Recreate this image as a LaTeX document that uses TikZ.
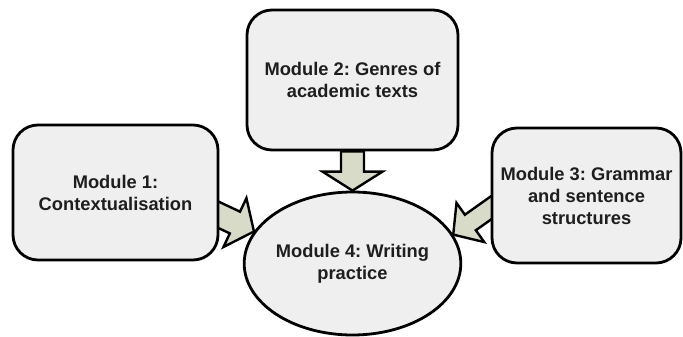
\documentclass[tikz,border=0pt]{standalone}
\usepackage{fontspec}
\setmainfont{Liberation Sans}
\usetikzlibrary{calc,shapes.geometric,backgrounds}
\frenchspacing

\definecolor{boxfill}{RGB}{239,239,239}
\definecolor{arrowfill}{RGB}{216,219,200}
\definecolor{modtext}{RGB}{30,30,30}

% Block arrow from #1 (start, hidden under the box) to #2 (tip):
% #3 half shaft width, #4 half head width, #5 head length
\newcommand\blockarrow[5]{%
  \path (#2) coordinate (tipX) ($(#2)!#5!(#1)$) coordinate (baseX);
  \draw[blockarrow]
    ($(#1)!#3!90:(#2)$) -- ($(baseX)!#3!90:(tipX)$) --
    ($(baseX)!#4!90:(tipX)$) -- (tipX) --
    ($(baseX)!#4!-90:(tipX)$) -- ($(baseX)!#3!-90:(tipX)$) --
    ($(#1)!#3!-90:(#2)$) -- cycle;
}

\begin{document}
\begin{tikzpicture}[x=1pt,y=-1pt,
  module/.style={draw=black, line width=2.8pt, fill=boxfill,
    font=\bfseries\fontsize{18.3}{22}\selectfont, align=center,
    inner sep=0pt, text=modtext},
  modbox/.style={module, rectangle, rounded corners=25pt},
  modoval/.style={module, ellipse},
  blockarrow/.style={draw=black, line width=2.4pt, fill=arrowfill,
    line join=miter}]
\useasboundingbox (0,0) rectangle (683,337);

\node[modbox, minimum width=205pt, minimum height=135pt] (m1) at (115.5,192.5)
  {Module 1:\\Contextualisation};
\node[modbox, minimum width=211pt, minimum height=140pt] (m2) at (352.5,80)
  {Module 2: Genres of\\academic texts};
\node[modbox, minimum width=189pt, minimum height=135pt] (m3) at (586.5,195.5)
  {Module 3: Grammar\\and sentence\\structures};
\node[modoval, minimum width=215pt, minimum height=143pt] (m4) at (352.5,263.5)
  {Module 4: Writing\\practice};

\begin{scope}[on background layer]
  \coordinate (s1) at ($(m1.east)+(-8,19)$);
  \coordinate (s3) at ($(m3.west)+(8,7)$);
  \blockarrow{s1}{m4.162}{12pt}{27pt}{21pt}
  \blockarrow{m2.south}{m4.north}{11.5pt}{30pt}{19pt}
  \blockarrow{s3}{m4.16}{9.5pt}{24pt}{21pt}
\end{scope}
\end{tikzpicture}
\end{document}
